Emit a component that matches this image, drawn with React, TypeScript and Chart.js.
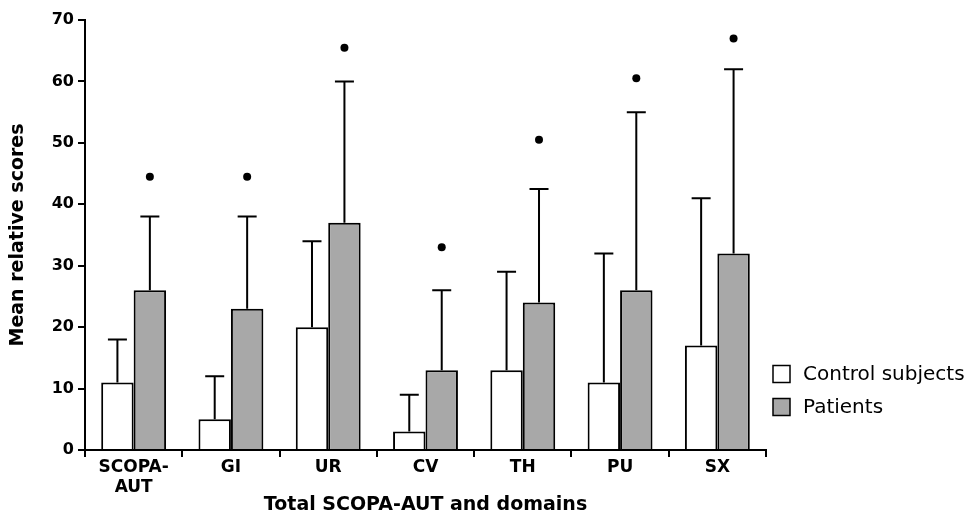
import React, { useEffect, useRef } from "react";
import { Chart, registerables } from "chart.js";

Chart.register(...registerables);

const categories: (string | string[])[] = [["SCOPA-", "AUT"], "GI", "UR", "CV", "TH", "PU", "SX"];
const seriesNames = ["Control subjects", "Patients"];
const controlMeans = [11, 5, 20, 3, 13, 11, 17];
const patientMeans = [26, 23, 37, 13, 24, 26, 32];
const controlUpper = [18, 12, 34, 9, 29, 32, 41];
const patientUpper = [38, 38, 60, 26, 42.5, 55, 62];
const markerValues = [44.5, 44.5, 65.5, 33, 50.5, 60.5, 67];
const yTicks = [0, 10, 20, 30, 40, 50, 60, 70];

const FONT = "'DejaVu Sans', sans-serif";
const COLORS = ["#ffffff", "#a8a8a8"];

const errorPlugin = {
  id: "errorBars",
  afterDatasetsDraw(chart: any) {
    const ctx = chart.ctx;
    const y = chart.scales.y;
    const uppers = [controlUpper, patientUpper];
    ctx.save();
    ctx.strokeStyle = "#000";
    ctx.lineWidth = 2;
    uppers.forEach((arr, di) => {
      const meta = chart.getDatasetMeta(di);
      meta.data.forEach((bar: any, i: number) => {
        const x = bar.x;
        const top = bar.y;
        const yu = y.getPixelForValue(arr[i]);
        ctx.beginPath();
        ctx.moveTo(x, top);
        ctx.lineTo(x, yu);
        ctx.moveTo(x - 9.5, yu);
        ctx.lineTo(x + 9.5, yu);
        ctx.stroke();
      });
    });
    const pm = chart.getDatasetMeta(1);
    ctx.fillStyle = "#000";
    pm.data.forEach((bar: any, i: number) => {
      const ym = y.getPixelForValue(markerValues[i]);
      ctx.beginPath();
      ctx.arc(bar.x, ym, 4, 0, Math.PI * 2);
      ctx.fill();
    });
    ctx.restore();
  },
  afterDraw(chart: any) {
    const ctx = chart.ctx;
    const area = chart.chartArea;
    const x0 = area.right + 7;
    const rows = [area.bottom - 76, area.bottom - 43];
    ctx.save();
    ctx.font = `20px ${FONT}`;
    ctx.textBaseline = "middle";
    ctx.textAlign = "left";
    seriesNames.forEach((name, i) => {
      const cy = rows[i];
      ctx.fillStyle = COLORS[i];
      ctx.fillRect(x0, cy - 8.5, 17, 17);
      ctx.strokeStyle = "#000";
      ctx.lineWidth = 1.5;
      ctx.strokeRect(x0, cy - 8.5, 17, 17);
      ctx.fillStyle = "#000";
      ctx.fillText(name, x0 + 30, cy + 1);
    });
    ctx.restore();
  },
};

export default function App() {
  const ref = useRef<HTMLCanvasElement>(null);
  useEffect(() => {
    if (!ref.current) return;
    const chart = new Chart(ref.current, {
      type: "bar",
      data: {
        labels: categories,
        datasets: [
          {
            label: seriesNames[0],
            data: controlMeans,
            backgroundColor: COLORS[0],
            borderColor: "#000000",
            borderWidth: 2,
          },
          {
            label: seriesNames[1],
            data: patientMeans,
            backgroundColor: COLORS[1],
            borderColor: "#000000",
            borderWidth: 2,
          },
        ],
      },
      options: {
        animation: false,
        responsive: false,
        maintainAspectRatio: false,
        datasets: { bar: { categoryPercentage: 0.667, barPercentage: 1.0 } },
        layout: { padding: { top: 20, right: 209, left: 0, bottom: 0 } },
        plugins: {
          tooltip: { enabled: false },
          legend: { display: false },
        },
        scales: {
          x: {
            afterFit: (s: any) => {
              s.height = 68;
            },
            grid: { drawOnChartArea: false, offset: true, tickLength: 7, color: "#000", lineWidth: 2 },
            border: { color: "#000", width: 2 },
            ticks: { color: "#000", font: { family: FONT, size: 17, weight: "bold", lineHeight: 1.15 }, maxRotation: 0, padding: 1 },
            title: {
              display: true,
              text: "Total SCOPA-AUT and domains",
              color: "#000",
              font: { family: FONT, size: 19, weight: "bold" },
              padding: { top: 0, bottom: 2 },
            },
          },
          y: {
            min: 0,
            max: 70,
            afterFit: (s: any) => {
              s.width = 85;
            },
            afterBuildTicks: (s: any) => {
              s.ticks = yTicks.map((v) => ({ value: v }));
            },
            grid: { drawOnChartArea: false, tickLength: 7, color: "#000", lineWidth: 2 },
            border: { color: "#000", width: 2 },
            ticks: { color: "#000", font: { family: FONT, size: 16, weight: "bold" }, padding: 4 },
            title: {
              display: true,
              text: "Mean relative scores",
              color: "#000",
              font: { family: FONT, size: 19, weight: "bold" },
              padding: { top: 7, bottom: 0 },
            },
          },
        },
      },
      plugins: [errorPlugin],
    } as any);
    return () => chart.destroy();
  }, []);
  return (
    <div style={{ position: "absolute", left: 0, top: 0, width: 975, height: 518, background: "#fff" }}>
      <canvas ref={ref} width={975} height={518} />
    </div>
  );
}
